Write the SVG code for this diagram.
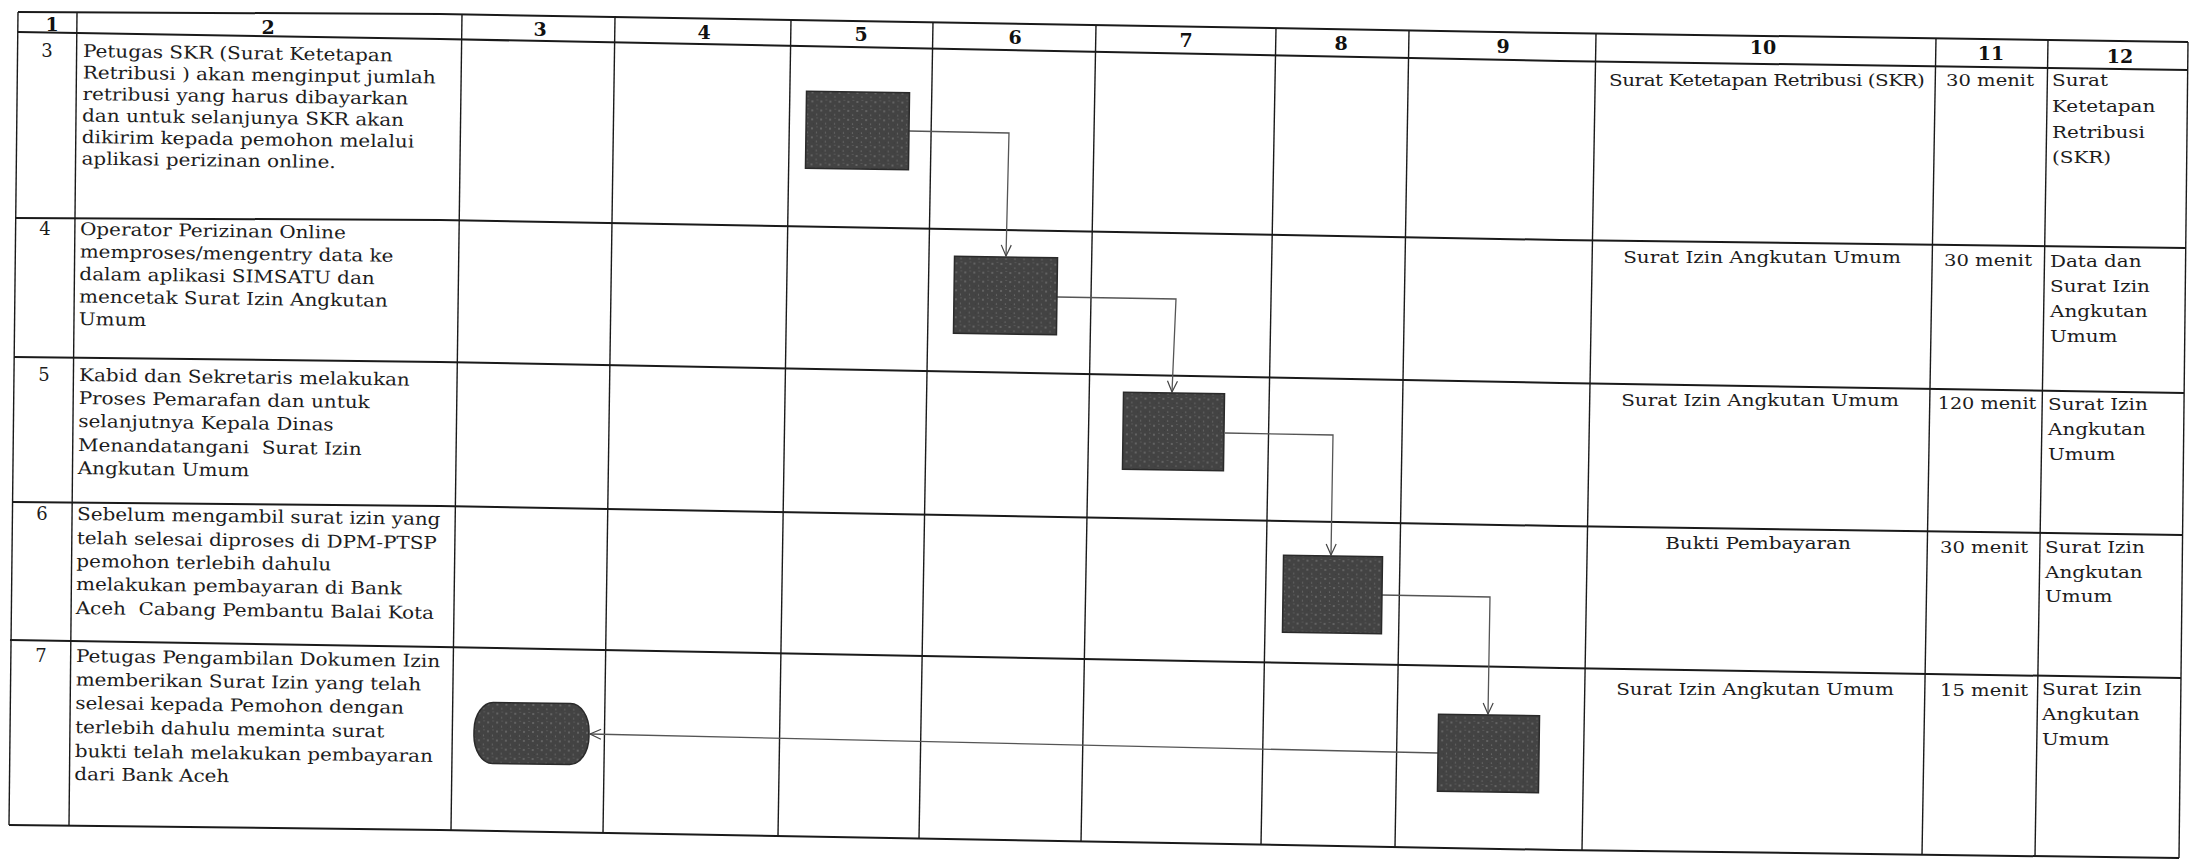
<svg xmlns="http://www.w3.org/2000/svg" width="2192" height="859" viewBox="0 0 2192 859">
<style>
.hl{fill:none;stroke:#1a1a1a;stroke-width:2}
.vl{fill:none;stroke:#1a1a1a;stroke-width:1.4}
.t{font-family:"DejaVu Serif","Liberation Serif",serif;font-size:17.5px;fill:#1c1c1c}
.n{font-family:"DejaVu Serif","Liberation Serif",serif;font-size:18px;fill:#1c1c1c;text-anchor:middle}
.h{font-family:"DejaVu Serif","Liberation Serif",serif;font-size:19px;font-weight:bold;fill:#111;text-anchor:middle}
.m{text-anchor:middle}
.box{fill:url(#speck);stroke:#2a2a2a;stroke-width:1.5}
.con{fill:none;stroke:#555;stroke-width:1.3}
</style>
<defs>
<pattern id="speck" width="9" height="9" patternUnits="userSpaceOnUse">
<rect width="9" height="9" fill="#434343"/>
<circle cx="2" cy="3" r="0.7" fill="#9a9a9a"/>
<circle cx="6.5" cy="7" r="0.6" fill="#8a8a8a"/>
<circle cx="7" cy="1.5" r="0.5" fill="#777"/>
<circle cx="3.5" cy="7.5" r="0.4" fill="#333"/>
</pattern>
<marker id="arr" markerWidth="14" markerHeight="14" refX="12" refY="6" orient="auto" markerUnits="userSpaceOnUse">
<path d="M1,1 L12,6 L1,11" fill="none" stroke="#444" stroke-width="1.2"/>
</marker>
</defs>
<rect width="2192" height="859" fill="#fff"/>

<g id="grid">
<polyline class="hl" points="18,12 440,14 1560,33 2188,42"/>
<polyline class="hl" points="18,32 440,39 1560,61 2188,70"/>
<polyline class="hl" points="16,218 440,220 1560,240 2186,248"/>
<polyline class="hl" points="14,357 440,362 1560,383 2184,393"/>
<polyline class="hl" points="12,502 440,506 1560,526 2182,535"/>
<polyline class="hl" points="10,640 440,647 1560,668 2181,678"/>
<polyline class="hl" points="9,825 440,830 1560,850 2179,858"/>
<line class="vl" x1="18" y1="12" x2="9" y2="825"/>
<line class="vl" x1="77" y1="13" x2="69" y2="826"/>
<line class="vl" x1="462" y1="14" x2="451" y2="830"/>
<line class="vl" x1="615" y1="17" x2="603" y2="833"/>
<line class="vl" x1="791" y1="20" x2="778" y2="836"/>
<line class="vl" x1="933" y1="22" x2="919" y2="839"/>
<line class="vl" x1="1096" y1="25" x2="1081" y2="842"/>
<line class="vl" x1="1276" y1="28" x2="1261" y2="845"/>
<line class="vl" x1="1409" y1="31" x2="1395" y2="847"/>
<line class="vl" x1="1596" y1="34" x2="1582" y2="850"/>
<line class="vl" x1="1936" y1="38" x2="1922" y2="855"/>
<line class="vl" x1="2048" y1="40" x2="2035" y2="856"/>
<line class="vl" x1="2188" y1="42" x2="2179" y2="858"/>
</g>

<g id="header">
<text class="h" x="52" y="31">1</text>
<text class="h" x="268" y="34">2</text>
<text class="h" x="540" y="36">3</text>
<text class="h" x="704" y="39">4</text>
<text class="h" x="861" y="41">5</text>
<text class="h" x="1015" y="44">6</text>
<text class="h" x="1186" y="47">7</text>
<text class="h" x="1341" y="50">8</text>
<text class="h" x="1503" y="53">9</text>
<text class="h" x="1763" y="54">10</text>
<text class="h" x="1991" y="60">11</text>
<text class="h" x="2120" y="63">12</text>
</g>

<g id="rownums">
<text class="n" x="47" y="57">3</text>
<text class="n" x="45" y="235">4</text>
<text class="n" x="44" y="381">5</text>
<text class="n" x="42" y="520">6</text>
<text class="n" x="41" y="662">7</text>
</g>

<g id="row3" transform="rotate(0.8 83 57) matrix(1.14 0 0 1 -11.62 0)">
<text class="t" x="83" y="57">Petugas SKR (Surat Ketetapan</text>
<text class="t" x="83" y="78.5">Retribusi ) akan menginput jumlah</text>
<text class="t" x="83" y="100">retribusi yang harus dibayarkan</text>
<text class="t" x="83" y="121.5">dan untuk selanjunya SKR akan</text>
<text class="t" x="83" y="143">dikirim kepada pemohon melalui</text>
<text class="t" x="83" y="164.5">aplikasi perizinan online.</text>
</g>
<g id="row4" transform="rotate(0.8 80 235) matrix(1.14 0 0 1 -11.2 0)">
<text class="t" x="80" y="235">Operator Perizinan Online</text>
<text class="t" x="80" y="257.5">memproses/mengentry data ke</text>
<text class="t" x="80" y="280">dalam aplikasi SIMSATU dan</text>
<text class="t" x="80" y="302.5">mencetak Surat Izin Angkutan</text>
<text class="t" x="80" y="325">Umum</text>
</g>
<g id="row5" transform="rotate(0.8 79 381) matrix(1.14 0 0 1 -11.06 0)">
<text class="t" x="79" y="381">Kabid dan Sekretaris melakukan</text>
<text class="t" x="79" y="404">Proses Pemarafan dan untuk</text>
<text class="t" x="79" y="427">selanjutnya Kepala Dinas</text>
<text class="t" x="79" y="451" xml:space="preserve">Menandatangani  Surat Izin</text>
<text class="t" x="79" y="474">Angkutan Umum</text>
</g>
<g id="row6" transform="rotate(0.8 77 520) matrix(1.14 0 0 1 -10.78 0)">
<text class="t" x="77" y="520">Sebelum mengambil surat izin yang</text>
<text class="t" x="77" y="544">telah selesai diproses di DPM-PTSP</text>
<text class="t" x="77" y="567">pemohon terlebih dahulu</text>
<text class="t" x="77" y="590">melakukan pembayaran di Bank</text>
<text class="t" x="77" y="614" xml:space="preserve">Aceh  Cabang Pembantu Balai Kota</text>
</g>
<g id="row7" transform="rotate(0.8 76 662) matrix(1.14 0 0 1 -10.64 0)">
<text class="t" x="76" y="662">Petugas Pengambilan Dokumen Izin</text>
<text class="t" x="76" y="685.5">memberikan Surat Izin yang telah</text>
<text class="t" x="76" y="709">selesai kepada Pemohon dengan</text>
<text class="t" x="76" y="733">terlebih dahulu meminta surat</text>
<text class="t" x="76" y="757">bukti telah melakukan pembayaran</text>
<text class="t" x="76" y="780">dari Bank Aceh</text>
</g>

<g id="col10">
<text class="t m" x="1767" y="86" textLength="277" lengthAdjust="spacing" transform="matrix(1.14 0 0 1 -247.38 0)">Surat Ketetapan Retribusi (SKR)</text>
<text class="t m" x="1762" y="263" transform="matrix(1.14 0 0 1 -246.68 0)">Surat Izin Angkutan Umum</text>
<text class="t m" x="1760" y="406" transform="matrix(1.14 0 0 1 -246.4 0)">Surat Izin Angkutan Umum</text>
<text class="t m" x="1758" y="549" transform="matrix(1.14 0 0 1 -246.12 0)">Bukti Pembayaran</text>
<text class="t m" x="1755" y="695" transform="matrix(1.14 0 0 1 -245.7 0)">Surat Izin Angkutan Umum</text>
</g>
<g id="col11">
<text class="t m" x="1990" y="86" transform="matrix(1.12 0 0 1 -238.8 0)">30 menit</text>
<text class="t m" x="1988" y="266" transform="matrix(1.12 0 0 1 -238.56 0)">30 menit</text>
<text class="t m" x="1987" y="409" transform="matrix(1.1 0 0 1 -198.7 0)">120 menit</text>
<text class="t m" x="1984" y="553" transform="matrix(1.12 0 0 1 -238.08 0)">30 menit</text>
<text class="t m" x="1984" y="696" transform="matrix(1.12 0 0 1 -238.08 0)">15 menit</text>
</g>
<g id="col12">
<g transform="matrix(1.14 0 0 1 -287.28 0)">
<text class="t" x="2052" y="86">Surat</text>
<text class="t" x="2052" y="112">Ketetapan</text>
<text class="t" x="2052" y="138">Retribusi</text>
<text class="t" x="2052" y="163">(SKR)</text>
</g>
<g transform="matrix(1.14 0 0 1 -287 0)">
<text class="t" x="2050" y="267">Data dan</text>
<text class="t" x="2050" y="292">Surat Izin</text>
<text class="t" x="2050" y="317">Angkutan</text>
<text class="t" x="2050" y="342">Umum</text>
</g>
<g transform="matrix(1.14 0 0 1 -286.72 0)">
<text class="t" x="2048" y="410">Surat Izin</text>
<text class="t" x="2048" y="435">Angkutan</text>
<text class="t" x="2048" y="460">Umum</text>
</g>
<g transform="matrix(1.14 0 0 1 -286.3 0)">
<text class="t" x="2045" y="553">Surat Izin</text>
<text class="t" x="2045" y="578">Angkutan</text>
<text class="t" x="2045" y="602">Umum</text>
</g>
<g transform="matrix(1.14 0 0 1 -285.88 0)">
<text class="t" x="2042" y="695">Surat Izin</text>
<text class="t" x="2042" y="720">Angkutan</text>
<text class="t" x="2042" y="745">Umum</text>
</g>
</g>

<g id="connectors">
<polyline class="con" points="909,131 1009,133 1006,256" marker-end="url(#arr)"/>
<polyline class="con" points="1057,297 1176,299 1172,392" marker-end="url(#arr)"/>
<polyline class="con" points="1225,433 1333,435 1331,555" marker-end="url(#arr)"/>
<polyline class="con" points="1381,595 1490,597 1488,714" marker-end="url(#arr)"/>
<line class="con" x1="1438" y1="753" x2="590" y2="734" marker-end="url(#arr)"/>
</g>

<g id="n1"><rect class="box" x="806" y="92" width="103" height="77" transform="rotate(0.8 857 130)"/></g>
<g id="n2"><rect class="box" x="954" y="257" width="103" height="77" transform="rotate(0.8 1005 295)"/></g>
<g id="n3"><rect class="box" x="1123" y="393" width="101" height="77" transform="rotate(0.8 1173 431)"/></g>
<g id="n4"><rect class="box" x="1283" y="556" width="99" height="77" transform="rotate(0.8 1332 594)"/></g>
<g id="n5"><rect class="box" x="1438" y="715" width="101" height="77" transform="rotate(0.8 1488 753)"/></g>
<g id="n6"><rect class="box" x="474" y="703" width="115" height="61" rx="19" ry="28" transform="rotate(0.8 531 733)"/></g>
</svg>
